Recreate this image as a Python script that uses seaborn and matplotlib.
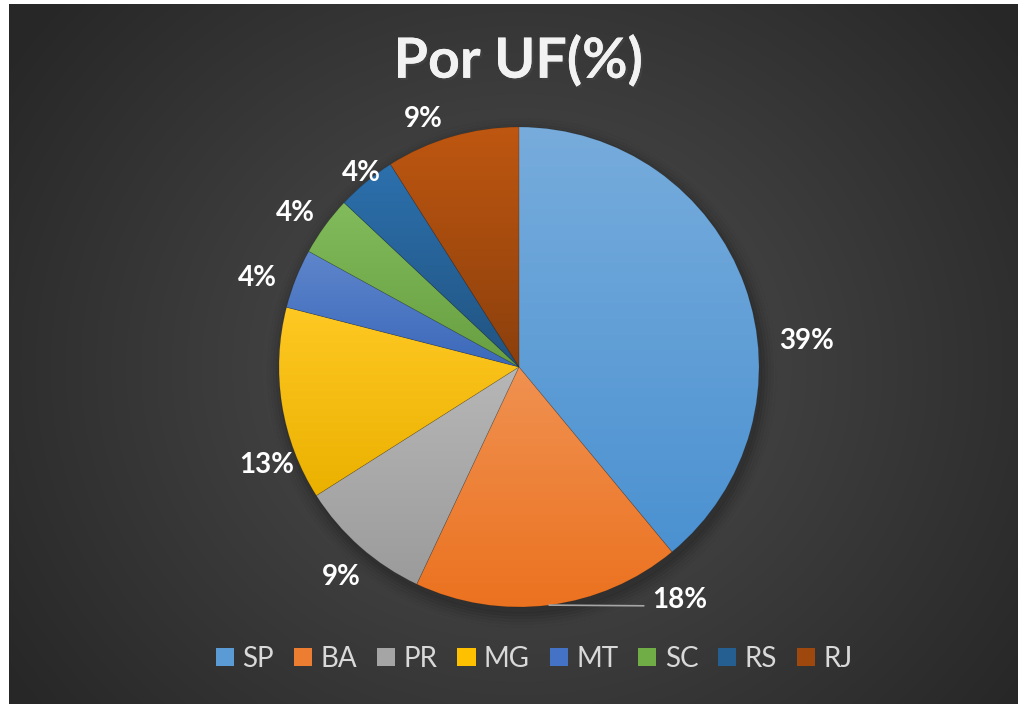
import colorsys
import numpy as np
import matplotlib
matplotlib.use('Agg')
import matplotlib.pyplot as plt
import matplotlib.patheffects as pe
from matplotlib.patches import Patch
import seaborn as sns

# dados do gráfico
estados = ['SP', 'BA', 'PR', 'MG', 'MT', 'SC', 'RS', 'RJ']
percentuais = [39, 18, 9, 13, 4, 4, 4, 9]
rotulos = ['39%', '18%', '9%', '13%', '4%', '4%', '4%', '9%']
titulo = 'Por UF(%)'

# posições dos rótulos (raio unitário)
pos_rotulos = [(1.20, 0.11), (0.67, -0.97), (-0.74, -0.875), (-1.05, -0.41),
               (-1.09, 0.37), (-0.93, 0.64), (-0.655, 0.81), (-0.40, 1.035)]

sns.set_theme(style='dark')
plt.rcParams['font.family'] = ['Lato', 'DejaVu Sans']
cores = sns.color_palette(['#5B9BD5', '#ED7D31', '#A5A5A5', '#FFC000',
                           '#4472C4', '#70AD47', '#255E91', '#9E480E'])


def ajusta(c, dl):
    h, l, s = colorsys.rgb_to_hls(*c)
    return np.array(colorsys.hls_to_rgb(h, min(max(l + dl, 0), 1), s))


fig = plt.figure(figsize=(10.18, 7.04), dpi=100)
fig.patch.set_facecolor('white')

# fundo com gradiente radial
bg = fig.add_axes([9 / 1018, 0, 1 - 9 / 1018, 1 - 4 / 704])
yy, xx = np.mgrid[0:700, 0:1009]
d = np.sqrt(((xx - 510) / 620) ** 2 + ((yy - 363) / 560) ** 2)
d = np.clip(d, 0, 1)
centro = np.array([0x50, 0x50, 0x50]) / 255
borda = np.array([0x27, 0x27, 0x27]) / 255
img = centro[None, None, :] * (1 - d[..., None]) + borda[None, None, :] * d[..., None]
bg.imshow(img, aspect='auto', extent=(0, 1, 0, 1))
bg.set_axis_off()

# eixo da pizza
r_px = 240
half = 1.4
lado = 2 * half * r_px
ax = fig.add_axes([(519 - lado / 2) / 1018, (704 - 367 - lado / 2) / 704,
                   lado / 1018, lado / 704])

# sombra
for i, a in enumerate(np.linspace(0.06, 0.01, 6)):
    sh = plt.Circle((0.012, -0.025), 1.0 + i * 0.012, color='black', alpha=a, zorder=0)
    ax.add_patch(sh)

wedges, _ = ax.pie(percentuais, colors=cores, startangle=90, counterclock=False,
                   radius=1.0, wedgeprops=dict(linewidth=0.5, edgecolor=(0, 0, 0, 0.15)))

# gradiente vertical dentro de cada fatia (caixa de cada fatia)
ramp = np.linspace(1, 0, 200)[:, None]
for w, c in zip(wedges, cores):
    v = w.get_path().vertices
    x0, x1 = v[:, 0].min(), v[:, 0].max()
    y0, y1 = v[:, 1].min(), v[:, 1].max()
    topo = ajusta(c, 0.07)
    base = ajusta(c, -0.04)
    grad = topo[None, None, :] * ramp[..., None] + base[None, None, :] * (1 - ramp[..., None])
    grad = np.repeat(grad, 2, axis=1)
    im = ax.imshow(grad, extent=(x0 - 0.01, x1 + 0.01, y0 - 0.01, y1 + 0.01),
                   aspect='auto', zorder=w.get_zorder() + 0.1)
    im.set_clip_path(w)
for w in wedges:
    w.set_zorder(w.get_zorder() + 0.2)
    w.set_facecolor('none')

# rótulos
for w, txt, (x, y) in zip(wedges, rotulos, pos_rotulos):
    ax.text(x, y, txt, ha='center', va='center', fontsize=20, fontweight='bold',
            color='white', zorder=5)

# linha guia do 18%
w = wedges[1]
ang = np.deg2rad((w.theta1 + w.theta2) / 2)
ax.plot([np.cos(ang), 0.52], [np.sin(ang), -0.995], color='#a6a6a6', lw=1.2, zorder=4)

ax.set_xlim(-half, half)
ax.set_ylim(-half, half)
ax.set_aspect('equal')
ax.set_axis_off()

# título
fig.text(0.509, 0.914, titulo, ha='center', va='center', fontsize=40, fontweight='bold',
         color='#f2f2f2',
         path_effects=[pe.withSimplePatchShadow(offset=(1.5, -1.5), alpha=0.5), pe.Normal()])

# legenda
handles = [Patch(facecolor=c, edgecolor='none') for c in cores]
leg = fig.legend(handles, estados, loc='center', bbox_to_anchor=(0.525, 0.064), ncol=8,
                 frameon=False, fontsize=20, handlelength=0.65, handleheight=0.65,
                 handletextpad=0.3, columnspacing=0.72)
for t in leg.get_texts():
    t.set_color('#d9d9d9')

fig.savefig('out.png', dpi=100, facecolor=fig.get_facecolor())
